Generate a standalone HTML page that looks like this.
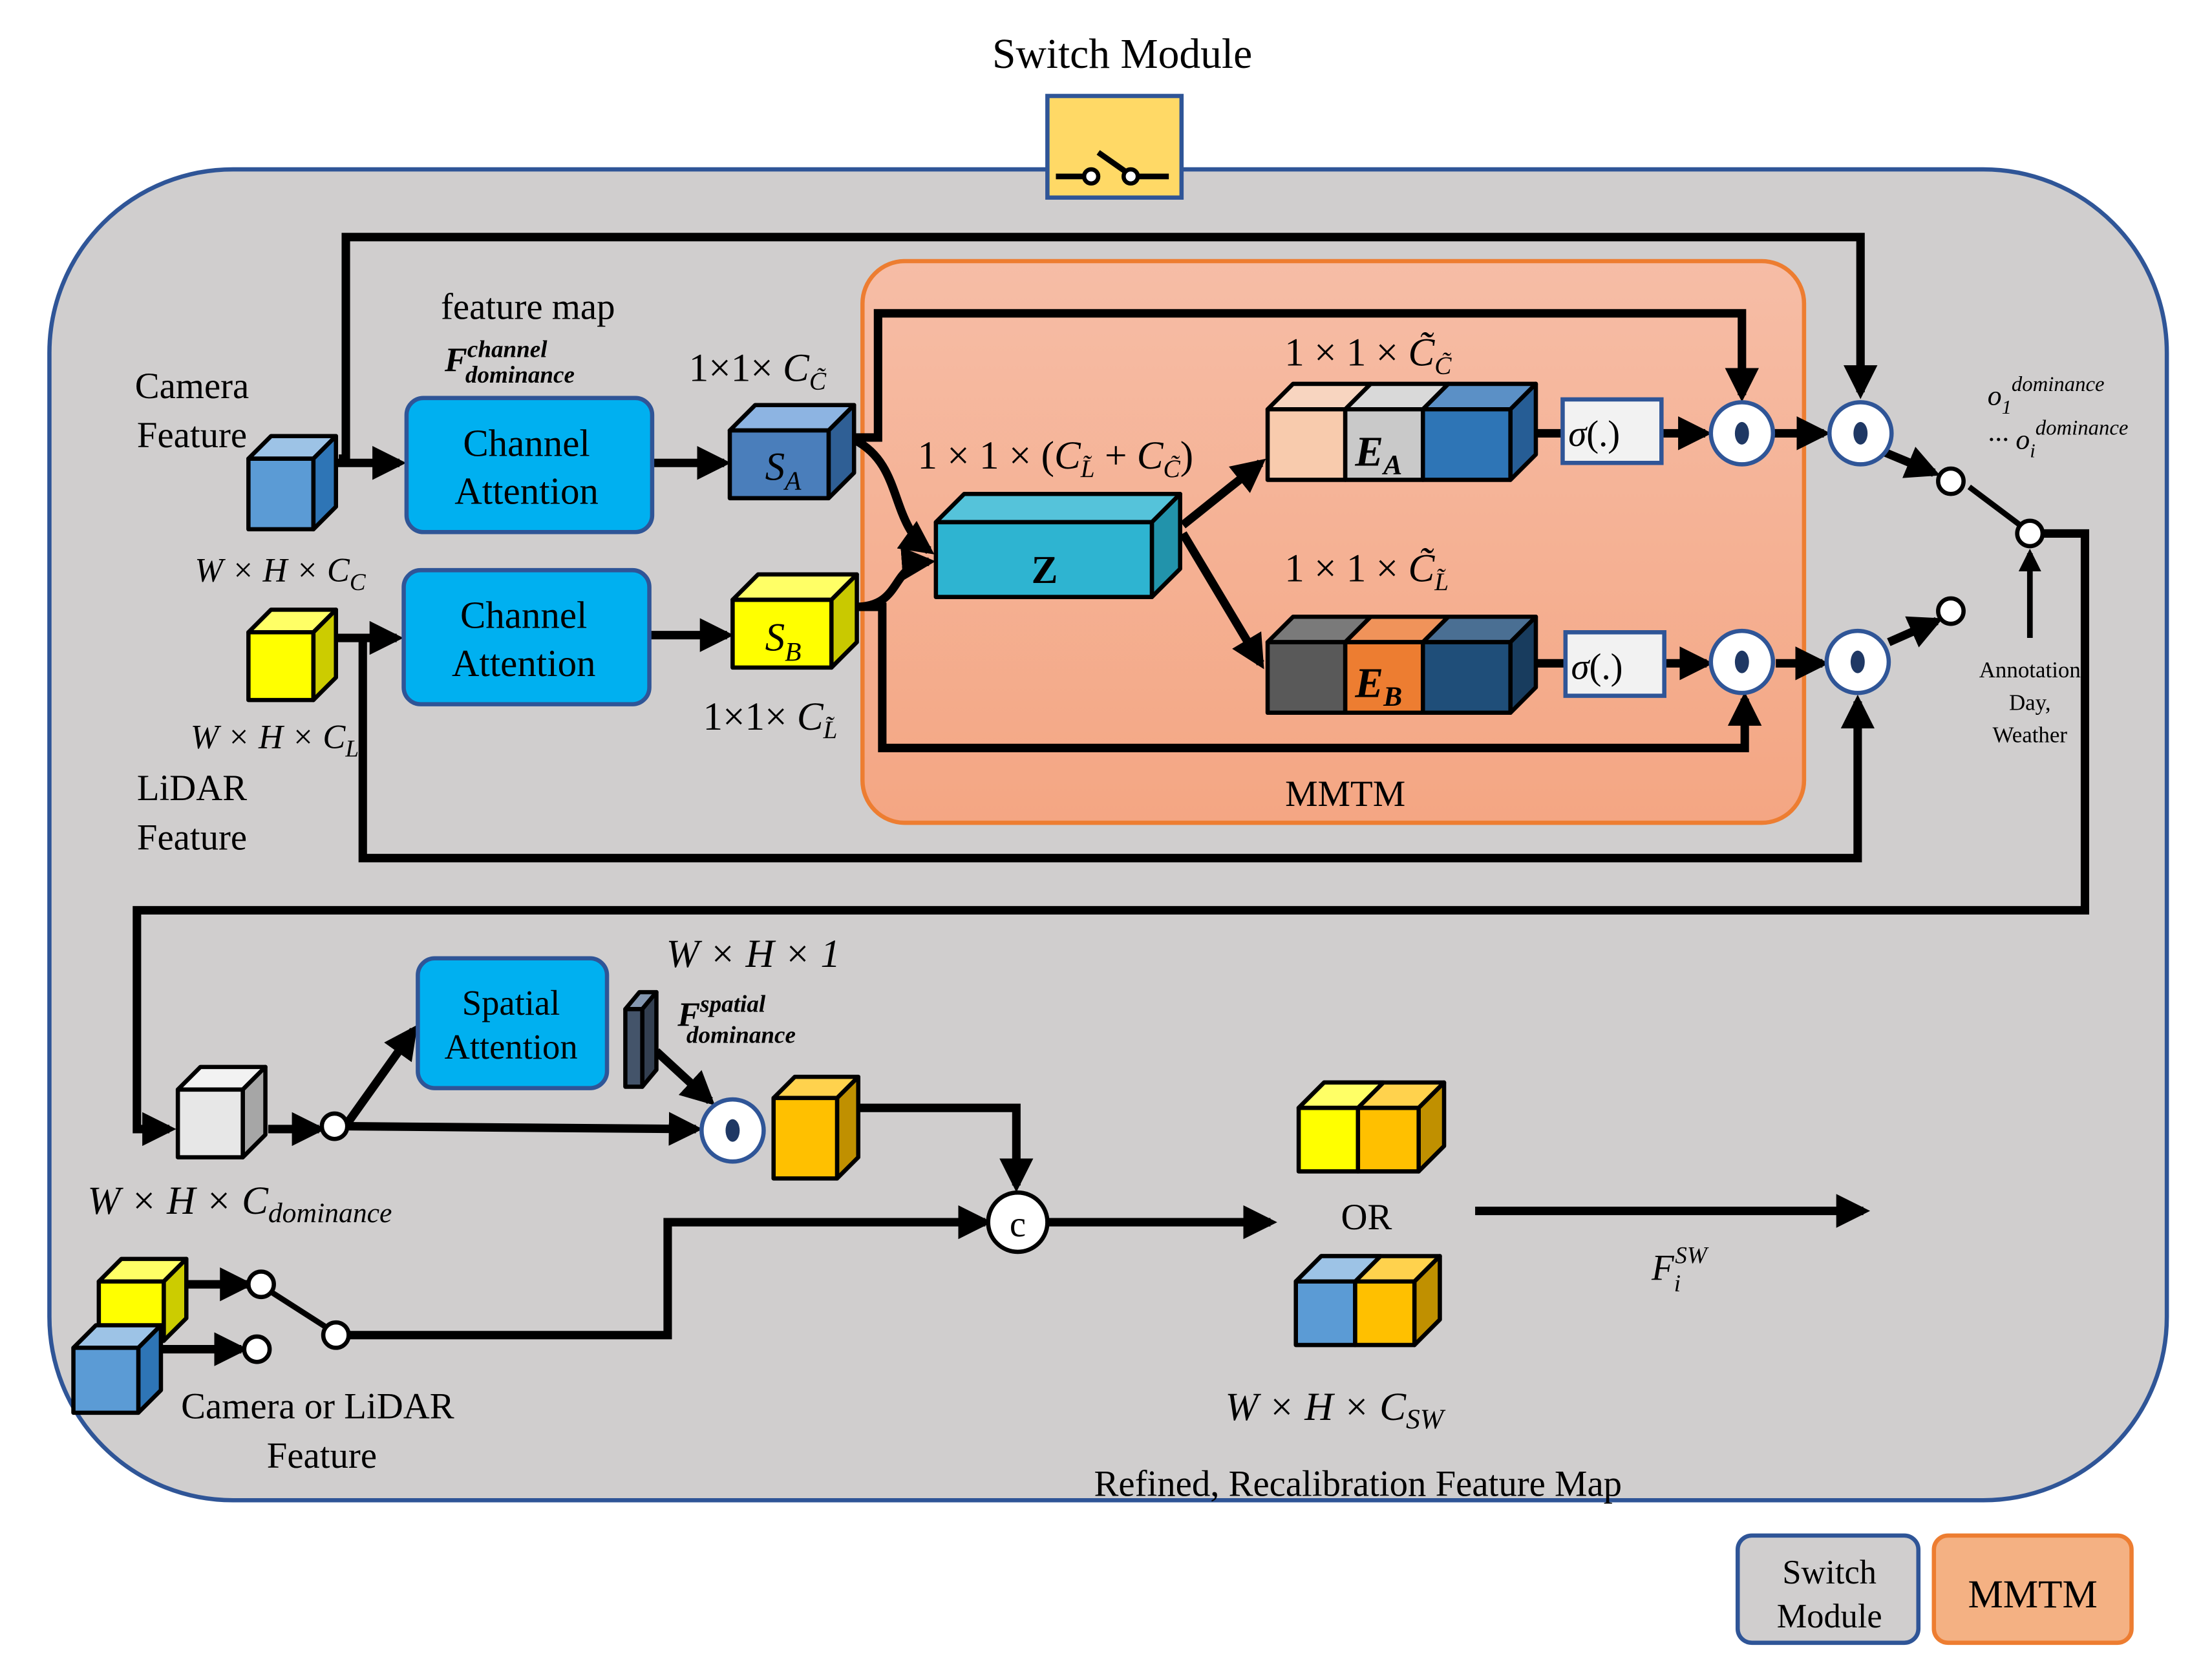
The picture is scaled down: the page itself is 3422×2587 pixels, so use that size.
<!DOCTYPE html>
<html><head><meta charset="utf-8"><style>
html,body{margin:0;padding:0;background:#fff;}
svg{display:block;}
text{font-family:"Liberation Serif",serif;fill:#000;}
.it{font-style:italic;}
</style></head><body>
<svg width="3422" height="2587" viewBox="0 0 1567 1184.7" preserveAspectRatio="none" xmlns="http://www.w3.org/2000/svg">
<defs>
<marker id="a" markerWidth="4" markerHeight="4" refX="3.2" refY="2" orient="auto" markerUnits="strokeWidth"><path d="M0,0 L4,2 L0,4 Z" fill="#000"/></marker>
<linearGradient id="mg" x1="0" y1="0" x2="0" y2="1"><stop offset="0" stop-color="#f6bda6"/><stop offset="1" stop-color="#f4a683"/></linearGradient>
</defs>
<rect width="1600" height="1200" fill="#fff"/>
<rect x="35" y="120" width="1500" height="943" rx="130" fill="#d0cece" stroke="#2f5597" stroke-width="3"/>
<text x="795" y="48" font-size="30" text-anchor="middle">Switch Module</text>
<rect x="742" y="68" width="95" height="72" fill="#ffd966" stroke="#2f5597" stroke-width="3"/>
<g stroke="#000" stroke-width="4" fill="none"><line x1="748" y1="125" x2="768" y2="125"/><line x1="778" y1="108" x2="798" y2="122"/><line x1="806" y1="125" x2="828" y2="125"/></g>
<circle cx="773" cy="125" r="5" fill="#fff" stroke="#000" stroke-width="3"/><circle cx="801" cy="125" r="5" fill="#fff" stroke="#000" stroke-width="3"/>

<rect x="611" y="185" width="667" height="398" rx="30" fill="url(#mg)" stroke="#ed7d31" stroke-width="3"/>
<text x="953" y="571" font-size="26" text-anchor="middle">MMTM</text>

<g stroke="#000" stroke-width="6" fill="none">
<polyline points="240,325 245,325 245,168 1318,168 1318,278" marker-end="url(#a)"/>
<line x1="238" y1="328" x2="283" y2="328" marker-end="url(#a)"/>
<line x1="462" y1="328" x2="513" y2="328" marker-end="url(#a)"/>
<polyline points="605,310 622,310 622,222 1234,222 1234,280" marker-end="url(#a)"/>
<path d="M606,312 C640,330 630,370 658,390" marker-end="url(#a)"/>
<path d="M606,430 C640,430 630,400 658,398" marker-end="url(#a)"/>
<polyline points="606,430 625,430 625,530 1236,530 1236,495" marker-end="url(#a)"/>
<line x1="838" y1="372" x2="893" y2="328" marker-end="url(#a)"/>
<line x1="838" y1="378" x2="893" y2="470" marker-end="url(#a)"/>
<line x1="1088" y1="307" x2="1106" y2="307"/>
<line x1="1088" y1="470" x2="1108" y2="470"/>
<line x1="1177" y1="307" x2="1208" y2="307" marker-end="url(#a)"/>
<line x1="1180" y1="470" x2="1209" y2="470" marker-end="url(#a)"/>
<line x1="1256" y1="307" x2="1292" y2="307" marker-end="url(#a)"/>
<line x1="1258" y1="470" x2="1291" y2="470" marker-end="url(#a)"/>
<line x1="1334" y1="320" x2="1370" y2="335" marker-end="url(#a)"/>
<line x1="1338" y1="455" x2="1372" y2="440" marker-end="url(#a)"/>
<line x1="1395" y1="345" x2="1431" y2="372" stroke-width="4"/>
<polyline points="1447,378 1477,378 1477,645 97,645 97,800 120,800" marker-end="url(#a)"/>
<line x1="1438" y1="452" x2="1438" y2="392" stroke-width="4" marker-end="url(#a)"/>
<polyline points="238,452 257,452 257,608 1316,608 1316,497" marker-end="url(#a)"/>
<line x1="255" y1="452" x2="281" y2="452" marker-end="url(#a)"/>
<line x1="460" y1="450" x2="515" y2="450" marker-end="url(#a)"/>
<line x1="190" y1="800" x2="226" y2="800" marker-end="url(#a)"/>
<line x1="246" y1="796" x2="293" y2="730" marker-end="url(#a)"/>
<line x1="246" y1="798" x2="493" y2="800" marker-end="url(#a)"/>
<line x1="465" y1="745" x2="503" y2="780" marker-end="url(#a)"/>
<polyline points="607,785 720,785 720,840" marker-end="url(#a)"/>
<line x1="741" y1="866" x2="900" y2="866" marker-end="url(#a)"/>
<line x1="133" y1="910" x2="175" y2="910" marker-end="url(#a)"/>
<line x1="115" y1="956" x2="171" y2="956" marker-end="url(#a)"/>
<line x1="193" y1="916" x2="232" y2="941" stroke-width="4"/>
<polyline points="247,946 473,946 473,866 698,866" marker-end="url(#a)"/>
<line x1="1045" y1="858" x2="1320" y2="858" marker-end="url(#a)"/>
</g>

<g stroke="#000" stroke-width="3" stroke-linejoin="round">
<polygon points="176,325 192,309 238,309 222,325" fill="#9dc3e6"/><polygon points="222,325 238,309 238,359 222,375" fill="#2e75b6"/><rect x="176" y="325" width="46" height="50" fill="#5b9bd5"/>
<polygon points="176,448 192,432 238,432 222,448" fill="#ffff66"/><polygon points="222,448 238,432 238,480 222,496" fill="#cccc00"/><rect x="176" y="448" width="46" height="48" fill="#ffff00"/>
<polygon points="517,305 535,287 605,287 587,305" fill="#8db4e2"/><polygon points="587,305 605,287 605,335 587,353" fill="#2f5f95"/><rect x="517" y="305" width="70" height="48" fill="#4a7ebb"/>
<polygon points="519,425 537,407 607,407 589,425" fill="#ffff66"/><polygon points="589,425 607,407 607,455 589,473" fill="#c9c900"/><rect x="519" y="425" width="70" height="48" fill="#ffff00"/>
<polygon points="663,370 683,350 836,350 816,370" fill="#55c3da"/><polygon points="816,370 836,350 836,403 816,423" fill="#2293ab"/><rect x="663" y="370" width="153" height="53" fill="#2eb4d1"/>
<polygon points="898,290 916,272 971,272 953,290" fill="#f8d5c0"/><polygon points="953,290 971,272 1026,272 1008,290" fill="#d9d9d9"/><polygon points="1008,290 1026,272 1088,272 1070,290" fill="#5b90c6"/>
<polygon points="1070,290 1088,272 1088,322 1070,340" fill="#265d95"/>
<rect x="898" y="290" width="55" height="50" fill="#f8cbad"/><rect x="953" y="290" width="55" height="50" fill="#c9c9c9"/><rect x="1008" y="290" width="62" height="50" fill="#2e75b6"/>
<polygon points="898,455 916,437 971,437 953,455" fill="#7a7a7a"/><polygon points="953,455 971,437 1026,437 1008,455" fill="#f0935a"/><polygon points="1008,455 1026,437 1088,437 1070,455" fill="#4a6f93"/>
<polygon points="1070,455 1088,437 1088,487 1070,505" fill="#183c5e"/>
<rect x="898" y="455" width="55" height="50" fill="#595959"/><rect x="953" y="455" width="55" height="50" fill="#ed7d31"/><rect x="1008" y="455" width="62" height="50" fill="#1f4e79"/>
<polygon points="126,772 142,756 188,756 172,772" fill="#f2f2f2"/><polygon points="172,772 188,756 188,804 172,820" fill="#a6a6a6"/><rect x="126" y="772" width="46" height="48" fill="#e7e7e7"/>
<polygon points="443,715 453,703 465,703 455,715" fill="#8497b0"/><polygon points="455,715 465,703 465,758 455,770" fill="#333f50"/><rect x="443" y="715" width="12" height="55" fill="#44546a"/>
<polygon points="548,778 563,763 608,763 593,778" fill="#ffd24d"/><polygon points="593,778 608,763 608,820 593,835" fill="#c09000"/><rect x="548" y="778" width="45" height="57" fill="#ffc000"/>
<polygon points="70,908 86,892 132,892 116,908" fill="#ffff66"/><polygon points="116,908 132,892 132,934 116,950" fill="#cccc00"/><rect x="70" y="908" width="46" height="42" fill="#ffff00"/>
<polygon points="52,955 68,939 114,939 98,955" fill="#9dc3e6"/><polygon points="98,955 114,939 114,985 98,1001" fill="#2e75b6"/><rect x="52" y="955" width="46" height="46" fill="#5b9bd5"/>
<polygon points="920,785 938,767 1023,767 1005,785" fill="#ffd24d"/><polygon points="920,785 938,767 980,767 962,785" fill="#ffff66"/>
<polygon points="1005,785 1023,767 1023,812 1005,830" fill="#c09000"/>
<rect x="920" y="785" width="42" height="45" fill="#ffff00"/><rect x="962" y="785" width="43" height="45" fill="#ffc000"/>
<polygon points="918,908 936,890 1020,890 1002,908" fill="#ffd24d"/><polygon points="918,908 936,890 978,890 960,908" fill="#9dc3e6"/>
<polygon points="1002,908 1020,890 1020,935 1002,953" fill="#c09000"/>
<rect x="918" y="908" width="42" height="45" fill="#5b9bd5"/><rect x="960" y="908" width="42" height="45" fill="#ffc000"/>
</g>

<g stroke="#2f5597" stroke-width="3">
<rect x="288" y="282" width="174" height="95" rx="12" fill="#00b0f0"/>
<rect x="286" y="404" width="174" height="95" rx="12" fill="#00b0f0"/>
<rect x="296" y="679" width="134" height="92" rx="12" fill="#00b0f0"/>
<rect x="1107" y="283" width="70" height="45" fill="#f2f2f2"/>
<rect x="1109" y="448" width="70" height="45" fill="#f2f2f2"/>
<rect x="1231" y="1088" width="128" height="76" rx="10" fill="#d0cece"/>
</g>
<rect x="1370" y="1088" width="140" height="76" rx="10" fill="#f4b183" stroke="#ed7d31" stroke-width="3"/>

<g stroke="#2f5597" stroke-width="3" fill="#fff">
<circle cx="1234" cy="307" r="22"/><circle cx="1318" cy="307" r="22"/><circle cx="1234" cy="469" r="22"/><circle cx="1316" cy="469" r="22"/><circle cx="519" cy="801" r="22"/>
</g>
<g fill="#1f3864"><ellipse cx="1234" cy="307" rx="5" ry="8"/><ellipse cx="1318" cy="307" rx="5" ry="8"/><ellipse cx="1234" cy="469" rx="5" ry="8"/><ellipse cx="1316" cy="469" rx="5" ry="8"/><ellipse cx="519" cy="801" rx="5" ry="8"/></g>
<g stroke="#000" stroke-width="3" fill="#fff">
<circle cx="1382" cy="341" r="9"/><circle cx="1438" cy="378" r="9"/><circle cx="1382" cy="433" r="9"/>
<circle cx="237" cy="798" r="9"/><circle cx="185" cy="910" r="9"/><circle cx="238" cy="946" r="9"/><circle cx="182" cy="956" r="9"/>
<circle cx="721" cy="866" r="21"/>
</g>
<text x="721" y="876" font-size="26" text-anchor="middle">c</text>

<g font-size="27" fill="#fff" text-anchor="middle">
<text x="373" y="323" fill="#fff">Channel</text><text x="373" y="357" fill="#fff">Attention</text>
<text x="371" y="445" fill="#fff">Channel</text><text x="371" y="479" fill="#fff">Attention</text>
<text x="362" y="719" font-size="25" fill="#fff">Spatial</text><text x="362" y="750" font-size="25" fill="#fff">Attention</text>
</g>
<g font-size="26" text-anchor="middle">
<text x="136" y="282">Camera</text><text x="136" y="317">Feature</text>
<text x="136" y="567">LiDAR</text><text x="136" y="602">Feature</text>
<text x="374" y="226">feature map</text>
<text x="225" y="1005">Camera or LiDAR</text><text x="228" y="1040">Feature</text>
<text x="968" y="871">OR</text>
<text x="962" y="1060">Refined, Recalibration Feature Map</text>
<text x="1296" y="1122" font-size="24">Switch</text><text x="1296" y="1153" font-size="24">Module</text>
<text x="1440" y="1139" font-size="28">MMTM</text>
</g>
<g font-size="16" text-anchor="middle"><text x="1438" y="480">Annotation</text><text x="1438" y="503">Day,</text><text x="1438" y="526">Weather</text></g>

<g class="it" font-size="24">
<text x="138" y="412" class="it">W × H × C<tspan font-size="17" dy="6">C</tspan></text>
<text x="135" y="530" class="it">W × H × C<tspan font-size="17" dy="6">L</tspan></text>
<text x="315" y="263" class="it" font-weight="bold">F<tspan font-size="17" dy="-10">channel</tspan><tspan font-size="17" dx="-58" dy="18">dominance</tspan></text>
<text x="488" y="270" font-size="28" font-style="normal">1×1× <tspan class="it">C</tspan><tspan font-size="18" dy="6" class="it">C̃</tspan></text>
<text x="498" y="517" font-size="28" font-style="normal">1×1× <tspan class="it">C</tspan><tspan font-size="18" dy="6" class="it">L̃</tspan></text>
<text x="650" y="332" font-size="28" font-style="normal">1 × 1 × (<tspan class="it">C</tspan><tspan font-size="18" dy="6" class="it">L̃</tspan><tspan dy="-6"> + </tspan><tspan class="it">C</tspan><tspan font-size="18" dy="6" class="it">C̃</tspan><tspan dy="-6">)</tspan></text>
<text x="910" y="259" font-size="28" font-style="normal">1 × 1 × <tspan class="it">C̃</tspan><tspan font-size="18" dy="6" class="it">C̃</tspan></text>
<text x="910" y="412" font-size="28" font-style="normal">1 × 1 × <tspan class="it">C̃</tspan><tspan font-size="18" dy="6" class="it">L̃</tspan></text>
<text x="542" y="340" font-size="28" class="it">S<tspan font-size="19" dy="7">A</tspan></text>
<text x="542" y="461" font-size="28" class="it">S<tspan font-size="19" dy="7">B</tspan></text>
<text x="740" y="413" font-size="28" font-weight="bold" font-style="normal" font-family="Liberation Sans" text-anchor="middle">Z</text>
<text x="960" y="330" font-size="30" class="it" font-weight="bold">E<tspan font-size="20" dy="6">A</tspan></text>
<text x="960" y="494" font-size="30" class="it" font-weight="bold">E<tspan font-size="20" dy="6">B</tspan></text>
<text x="1111" y="316" font-size="26" class="it">σ<tspan font-style="normal">(.)</tspan></text>
<text x="1113" y="481" font-size="26" class="it">σ<tspan font-style="normal">(.)</tspan></text>
<text x="1408" y="287" font-size="20" class="it">o<tspan font-size="14" dy="6">1</tspan><tspan font-size="15" dy="-16">dominance</tspan></text>
<text x="1408" y="318" font-size="20" class="it">··· o<tspan font-size="14" dy="6">i</tspan><tspan font-size="15" dy="-16">dominance</tspan></text>
<text x="472" y="685" font-size="28" class="it">W × H × 1</text>
<text x="480" y="727" class="it" font-weight="bold">F<tspan font-size="17" dy="-10">spatial</tspan><tspan font-size="17" dx="-56" dy="22">dominance</tspan></text>
<text x="62" y="860" font-size="28" class="it">W × H × C<tspan font-size="20" dy="6">dominance</tspan></text>
<text x="868" y="1006" font-size="28" class="it">W × H × C<tspan font-size="20" dy="6">SW</tspan></text>
<text x="1170" y="907" font-size="26" class="it">F<tspan font-size="17" dy="8">i</tspan><tspan font-size="17" dx="-4" dy="-20">SW</tspan></text>
</g>
</svg>
</body></html>
